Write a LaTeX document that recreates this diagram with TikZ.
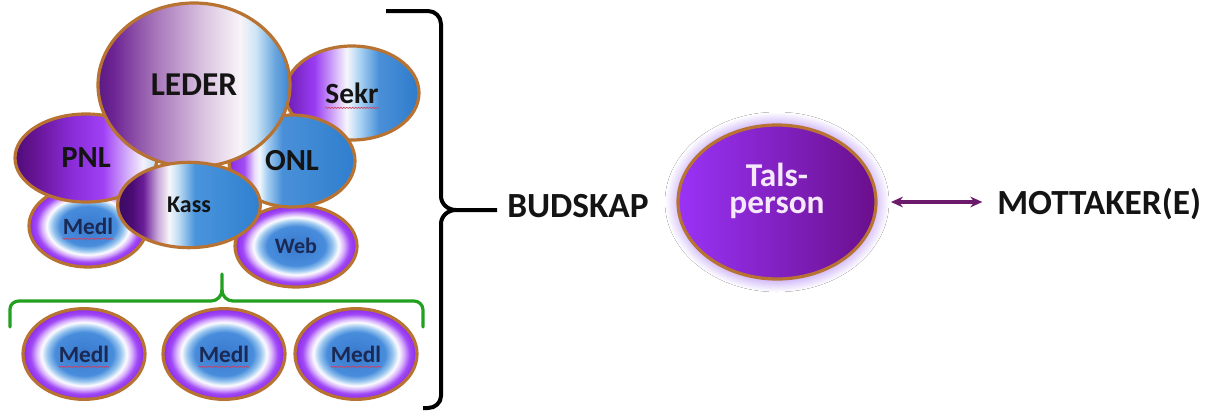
\documentclass[tikz,border=0pt]{standalone}
\usepackage{fontspec}
\setmainfont{Carlito}
\usepackage{tikz}
\usetikzlibrary{shapes.geometric,arrows.meta,decorations.pathmorphing}

\definecolor{rim}{RGB}{184,115,51}
\definecolor{ink}{RGB}{20,20,20}
\definecolor{navy}{RGB}{27,42,85}
\definecolor{spellred}{RGB}{208,64,96}
\definecolor{bracegreen}{RGB}{34,160,32}
\definecolor{arrowpurple}{RGB}{107,26,107}
\definecolor{talstext}{RGB}{244,232,250}
\definecolor{glowc}{RGB}{208,184,248}

% fills of the bubbles
\pgfdeclarehorizontalshading{lederfill}{100bp}{color(0bp)=(rgb,255:red,90;green,26;blue,130); color(25bp)=(rgb,255:red,90;green,26;blue,130); color(29bp)=(rgb,255:red,110;green,36;blue,148); color(40bp)=(rgb,255:red,167;green,118;blue,186); color(53bp)=(rgb,255:red,220;green,198;blue,226); color(62bp)=(rgb,255:red,248;green,244;blue,248); color(66bp)=(rgb,255:red,207;green,230;blue,246); color(71bp)=(rgb,255:red,106;green,166;blue,222); color(75bp)=(rgb,255:red,60;green,134;blue,212); color(100bp)=(rgb,255:red,60;green,134;blue,212)}
\pgfdeclarehorizontalshading{sekrfill}{100bp}{color(0bp)=(rgb,255:red,106;green,28;blue,176); color(25bp)=(rgb,255:red,106;green,28;blue,176); color(36bp)=(rgb,255:red,154;green,60;blue,242); color(44bp)=(rgb,255:red,216;green,184;blue,250); color(48bp)=(rgb,255:red,246;green,246;blue,252); color(53bp)=(rgb,255:red,168;green,210;blue,242); color(60bp)=(rgb,255:red,74;green,144;blue,216); color(75bp)=(rgb,255:red,46;green,123;blue,203); color(100bp)=(rgb,255:red,46;green,123;blue,203)}
\pgfdeclarehorizontalshading{pnlfill}{100bp}{color(0bp)=(rgb,255:red,78;green,12;blue,120); color(25bp)=(rgb,255:red,78;green,12;blue,120); color(32bp)=(rgb,255:red,102;green,20;blue,148); color(45bp)=(rgb,255:red,138;green,44;blue,216); color(56bp)=(rgb,255:red,160;green,64;blue,244); color(64bp)=(rgb,255:red,208;green,168;blue,250); color(70bp)=(rgb,255:red,244;green,240;blue,252); color(75bp)=(rgb,255:red,184;green,224;blue,244); color(100bp)=(rgb,255:red,184;green,224;blue,244)}
\pgfdeclarehorizontalshading{onlfill}{100bp}{color(0bp)=(rgb,255:red,138;green,44;blue,232); color(25bp)=(rgb,255:red,138;green,44;blue,232); color(31bp)=(rgb,255:red,162;green,76;blue,244); color(35bp)=(rgb,255:red,232;green,218;blue,252); color(37bp)=(rgb,255:red,244;green,248;blue,252); color(40bp)=(rgb,255:red,168;green,208;blue,242); color(46bp)=(rgb,255:red,74;green,144;blue,216); color(75bp)=(rgb,255:red,47;green,126;blue,206); color(100bp)=(rgb,255:red,47;green,126;blue,206)}
\pgfdeclarehorizontalshading{kassfill}{100bp}{color(0bp)=(rgb,255:red,58;green,10;blue,98); color(25bp)=(rgb,255:red,58;green,10;blue,98); color(30bp)=(rgb,255:red,74;green,12;blue,116); color(34bp)=(rgb,255:red,106;green,28;blue,152); color(39bp)=(rgb,255:red,200;green,168;blue,216); color(43bp)=(rgb,255:red,248;green,246;blue,250); color(46bp)=(rgb,255:red,196;green,224;blue,244); color(52bp)=(rgb,255:red,74;green,148;blue,220); color(75bp)=(rgb,255:red,47;green,128;blue,207); color(100bp)=(rgb,255:red,47;green,128;blue,207)}
\pgfdeclareradialshading{medlfill}{\pgfpoint{0bp}{0bp}}{color(0bp)=(rgb,255:red,56;green,122;blue,206); color(12bp)=(rgb,255:red,72;green,140;blue,220); color(15bp)=(rgb,255:red,150;green,196;blue,238); color(17.5bp)=(rgb,255:red,252;green,252;blue,255); color(19.5bp)=(rgb,255:red,218;green,182;blue,252); color(22bp)=(rgb,255:red,160;green,72;blue,246); color(25bp)=(rgb,255:red,140;green,42;blue,236); color(50bp)=(rgb,255:red,140;green,42;blue,236)}
\pgfdeclarehorizontalshading{talsfill}{100bp}{color(0bp)=(rgb,255:red,154;green,51;blue,247); color(25bp)=(rgb,255:red,154;green,51;blue,247); color(75bp)=(rgb,255:red,106;green,15;blue,140); color(100bp)=(rgb,255:red,106;green,15;blue,140)}
\pgfdeclareradialshading{talsglow}{\pgfpoint{0bp}{0bp}}{color(0bp)=(glowc); color(21.5bp)=(glowc); color(25bp)=(white); color(50bp)=(white)}

\begin{document}
\begin{tikzpicture}[x=0.75pt,y=0.75pt,yscale=-1,xscale=1,
  bubble/.style={ellipse, draw=rim, line width=2.4pt, inner sep=0pt, text=ink},
  member/.style={bubble, shading=medlfill, text=navy, font={\bfseries\fontsize{17.5}{20}\selectfont}},
  bigword/.style={inner sep=0pt, text=ink, font={\bfseries\fontsize{26.5}{30}\selectfont}},
  spell/.style={draw=spellred, line width=0.5pt, decorate, decoration={snake, amplitude=0.45pt, segment length=2.2pt}},
  ]
\useasboundingbox (0,0) rectangle (1210,411);

%Shape: Ellipse [members behind the board]
\node[member, minimum width=88.5pt, minimum height=61.5pt] (medlA) at (88,226) {Medl};
\node[member, minimum width=91.5pt, minimum height=61.5pt, font={\bfseries\fontsize{16.5}{19}\selectfont}] (web) at (296,246) {Web};
%Shape: Ellipse [board]
\node[bubble, shading=sekrfill, minimum width=100.5pt, minimum height=70.5pt, font={\bfseries\fontsize{22}{26}\selectfont}] (sekr) at (352,93) {Sekr};
\node[bubble, shading=pnlfill, minimum width=106.5pt, minimum height=66pt, font={\bfseries\fontsize{23}{27}\selectfont}] (pnl) at (86,158) {PNL};
\node[bubble, shading=onlfill, minimum width=94.5pt, minimum height=69pt, font={\bfseries\fontsize{23}{27}\selectfont}] (onl) at (292,161) {ONL};
\node[bubble, shading=lederfill, minimum width=144pt, minimum height=123pt, font={\bfseries\fontsize{25}{29}\selectfont}] (leder) at (194,85) {LEDER};
\node[bubble, shading=kassfill, minimum width=107pt, minimum height=64pt, font={\bfseries\fontsize{18}{21}\selectfont}] (kass) at (189,205) {Kass};
%Shape: Ellipse [ordinary members]
\node[member, minimum width=91.5pt, minimum height=68pt] (medlB) at (84,354) {Medl};
\node[member, minimum width=91.5pt, minimum height=68pt] (medlC) at (224,354) {Medl};
\node[member, minimum width=91.5pt, minimum height=68pt] (medlD) at (356,354) {Medl};

% spelling marks
\draw[spell] ([xshift=-20pt,yshift=3.5pt]sekr.base) -- ([xshift=20pt,yshift=3.5pt]sekr.base);
\draw[spell] ([xshift=-19pt,yshift=3.5pt]medlA.base) -- ([xshift=19pt,yshift=3.5pt]medlA.base);
\draw[spell] ([xshift=-19pt,yshift=3.5pt]medlB.base) -- ([xshift=19pt,yshift=3.5pt]medlB.base);
\draw[spell] ([xshift=-19pt,yshift=3.5pt]medlC.base) -- ([xshift=19pt,yshift=3.5pt]medlC.base);
\draw[spell] ([xshift=-19pt,yshift=3.5pt]medlD.base) -- ([xshift=19pt,yshift=3.5pt]medlD.base);

%Green bracket
\draw[bracegreen, line width=2.4pt, line cap=round, line join=round] (10,327) -- (10,309) to[out=-90,in=180] (19,301) -- (211,301) to[out=0,in=90] (222,290) -- (222,274);
\draw[bracegreen, line width=2.4pt, line cap=round, line join=round] (222,290) to[out=90,in=180] (233,301) -- (414,301) to[out=0,in=-90] (423,310) -- (423,327);

%Black brace
\draw[line width=3pt, line join=round] (386,11) -- (428,11) to[out=0,in=-90] (441,24) -- (441,196) to[out=90,in=180] (456,210) -- (497,210);
\draw[line width=3pt, line join=round] (456,210) to[out=180,in=-90] (441,224) -- (441,396) to[out=90,in=0] (428,408) -- (423,408);

% Text Node
\node[bigword, anchor=base west] (budskap) at (507,217) {BUDSKAP};

%Shape: Ellipse [speaker with glow]
\fill[shading=talsglow] (777,202) ellipse (112 and 90);
\node[bubble, shading=talsfill, minimum width=148.5pt, minimum height=115.5pt] (tals) at (777,202) {};
% Text Node
\node[inner sep=0pt, text=talstext, align=center, font={\bfseries\fontsize{25}{20}\selectfont}] (talsname) at (777,191) {Tals-\\person};

% Text Node
\node[bigword, anchor=base west] (mott) at (997,214) {MOTTAKER(E)};

%Double arrow
\draw[arrowpurple, line width=2.3pt, {Stealth[length=9pt,width=8pt]}-{Stealth[length=9pt,width=8pt]}, shorten <=10pt, shorten >=11pt] (tals.east) -- (tals.east -| mott.west);

\end{tikzpicture}
\end{document}
